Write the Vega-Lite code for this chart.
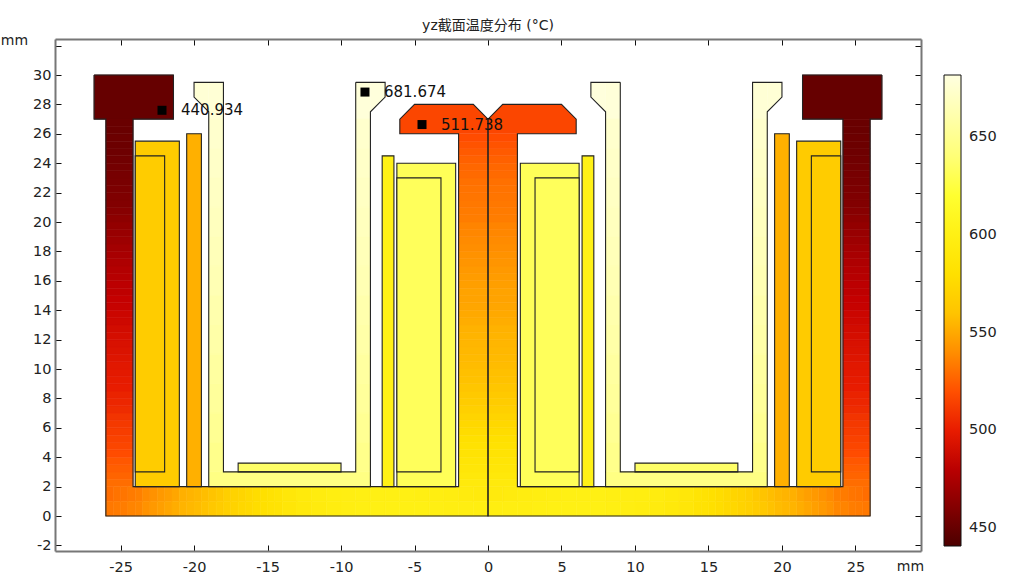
{"$schema":"https://vega.github.io/schema/vega-lite/v6.json","width":866,"height":512,"autosize":"none","padding":{"left":55,"top":39,"right":103,"bottom":25},"background":"white",
"title":{"text":"yz截面温度分布 (°C)","font":"DejaVu Sans, Noto Sans CJK SC","fontSize":14,"fontWeight":"normal","color":"#222","anchor":"middle","frame":"group","offset":0},
"config":{"view":{"stroke":null},"font":"DejaVu Sans"},
"datasets":{
"cells":[
{"x":-26.8,"x2":-21.4,"y":27,"y2":30,"t":450},{"x":21.4,"x2":26.8,"y":27,"y2":30,"t":450},
{"x":-26,"x2":-24.15,"y":2,"y2":2.5,"t":529},{"x":-26,"x2":-24.15,"y":2.5,"y2":3,"t":526},{"x":-26,"x2":-24.15,"y":3,"y2":3.5,"t":524},{"x":-26,"x2":-24.15,"y":3.5,"y2":4,"t":522},{"x":-26,"x2":-24.15,"y":4,"y2":4.5,"t":519},{"x":-26,"x2":-24.15,"y":4.5,"y2":5,"t":516},{"x":-26,"x2":-24.15,"y":5,"y2":5.5,"t":514},{"x":-26,"x2":-24.15,"y":5.5,"y2":6,"t":512},{"x":-26,"x2":-24.15,"y":6,"y2":6.5,"t":510},{"x":-26,"x2":-24.15,"y":6.5,"y2":7,"t":508},{"x":-26,"x2":-24.15,"y":7,"y2":7.5,"t":505},{"x":-26,"x2":-24.15,"y":7.5,"y2":8,"t":503},{"x":-26,"x2":-24.15,"y":8,"y2":8.5,"t":502},{"x":-26,"x2":-24.15,"y":8.5,"y2":9,"t":500},{"x":-26,"x2":-24.15,"y":9,"y2":9.5,"t":499},{"x":-26,"x2":-24.15,"y":9.5,"y2":10,"t":498},{"x":-26,"x2":-24.15,"y":10,"y2":10.5,"t":497},{"x":-26,"x2":-24.15,"y":10.5,"y2":11,"t":495},{"x":-26,"x2":-24.15,"y":11,"y2":11.5,"t":494},{"x":-26,"x2":-24.15,"y":11.5,"y2":12,"t":493},{"x":-26,"x2":-24.15,"y":12,"y2":12.5,"t":491},{"x":-26,"x2":-24.15,"y":12.5,"y2":13,"t":490},{"x":-26,"x2":-24.15,"y":13,"y2":13.5,"t":488},{"x":-26,"x2":-24.15,"y":13.5,"y2":14,"t":487},{"x":-26,"x2":-24.15,"y":14,"y2":14.5,"t":485},{"x":-26,"x2":-24.15,"y":14.5,"y2":15,"t":484},{"x":-26,"x2":-24.15,"y":15,"y2":15.5,"t":482},{"x":-26,"x2":-24.15,"y":15.5,"y2":16,"t":481},{"x":-26,"x2":-24.15,"y":16,"y2":16.5,"t":479},{"x":-26,"x2":-24.15,"y":16.5,"y2":17,"t":478},{"x":-26,"x2":-24.15,"y":17,"y2":17.5,"t":476},{"x":-26,"x2":-24.15,"y":17.5,"y2":18,"t":474},{"x":-26,"x2":-24.15,"y":18,"y2":18.5,"t":472},{"x":-26,"x2":-24.15,"y":18.5,"y2":19,"t":470},{"x":-26,"x2":-24.15,"y":19,"y2":19.5,"t":468},{"x":-26,"x2":-24.15,"y":19.5,"y2":20,"t":466},{"x":-26,"x2":-24.15,"y":20,"y2":20.5,"t":464},{"x":-26,"x2":-24.15,"y":20.5,"y2":21,"t":462},{"x":-26,"x2":-24.15,"y":21,"y2":21.5,"t":460},{"x":-26,"x2":-24.15,"y":21.5,"y2":22,"t":459},{"x":-26,"x2":-24.15,"y":22,"y2":22.5,"t":458},{"x":-26,"x2":-24.15,"y":22.5,"y2":23,"t":457},{"x":-26,"x2":-24.15,"y":23,"y2":23.5,"t":456},{"x":-26,"x2":-24.15,"y":23.5,"y2":24,"t":455},{"x":-26,"x2":-24.15,"y":24,"y2":24.5,"t":454},{"x":-26,"x2":-24.15,"y":24.5,"y2":25,"t":453},{"x":-26,"x2":-24.15,"y":25,"y2":25.5,"t":452},{"x":-26,"x2":-24.15,"y":25.5,"y2":26,"t":452},{"x":-26,"x2":-24.15,"y":26,"y2":26.5,"t":451},{"x":-26,"x2":-24.15,"y":26.5,"y2":27,"t":451},
{"x":24.15,"x2":26,"y":2,"y2":2.5,"t":529},{"x":24.15,"x2":26,"y":2.5,"y2":3,"t":526},{"x":24.15,"x2":26,"y":3,"y2":3.5,"t":524},{"x":24.15,"x2":26,"y":3.5,"y2":4,"t":522},{"x":24.15,"x2":26,"y":4,"y2":4.5,"t":519},{"x":24.15,"x2":26,"y":4.5,"y2":5,"t":516},{"x":24.15,"x2":26,"y":5,"y2":5.5,"t":514},{"x":24.15,"x2":26,"y":5.5,"y2":6,"t":512},{"x":24.15,"x2":26,"y":6,"y2":6.5,"t":510},{"x":24.15,"x2":26,"y":6.5,"y2":7,"t":508},{"x":24.15,"x2":26,"y":7,"y2":7.5,"t":505},{"x":24.15,"x2":26,"y":7.5,"y2":8,"t":503},{"x":24.15,"x2":26,"y":8,"y2":8.5,"t":502},{"x":24.15,"x2":26,"y":8.5,"y2":9,"t":500},{"x":24.15,"x2":26,"y":9,"y2":9.5,"t":499},{"x":24.15,"x2":26,"y":9.5,"y2":10,"t":498},{"x":24.15,"x2":26,"y":10,"y2":10.5,"t":497},{"x":24.15,"x2":26,"y":10.5,"y2":11,"t":495},{"x":24.15,"x2":26,"y":11,"y2":11.5,"t":494},{"x":24.15,"x2":26,"y":11.5,"y2":12,"t":493},{"x":24.15,"x2":26,"y":12,"y2":12.5,"t":491},{"x":24.15,"x2":26,"y":12.5,"y2":13,"t":490},{"x":24.15,"x2":26,"y":13,"y2":13.5,"t":488},{"x":24.15,"x2":26,"y":13.5,"y2":14,"t":487},{"x":24.15,"x2":26,"y":14,"y2":14.5,"t":485},{"x":24.15,"x2":26,"y":14.5,"y2":15,"t":484},{"x":24.15,"x2":26,"y":15,"y2":15.5,"t":482},{"x":24.15,"x2":26,"y":15.5,"y2":16,"t":481},{"x":24.15,"x2":26,"y":16,"y2":16.5,"t":479},{"x":24.15,"x2":26,"y":16.5,"y2":17,"t":478},{"x":24.15,"x2":26,"y":17,"y2":17.5,"t":476},{"x":24.15,"x2":26,"y":17.5,"y2":18,"t":474},{"x":24.15,"x2":26,"y":18,"y2":18.5,"t":472},{"x":24.15,"x2":26,"y":18.5,"y2":19,"t":470},{"x":24.15,"x2":26,"y":19,"y2":19.5,"t":468},{"x":24.15,"x2":26,"y":19.5,"y2":20,"t":466},{"x":24.15,"x2":26,"y":20,"y2":20.5,"t":464},{"x":24.15,"x2":26,"y":20.5,"y2":21,"t":462},{"x":24.15,"x2":26,"y":21,"y2":21.5,"t":460},{"x":24.15,"x2":26,"y":21.5,"y2":22,"t":459},{"x":24.15,"x2":26,"y":22,"y2":22.5,"t":458},{"x":24.15,"x2":26,"y":22.5,"y2":23,"t":457},{"x":24.15,"x2":26,"y":23,"y2":23.5,"t":456},{"x":24.15,"x2":26,"y":23.5,"y2":24,"t":455},{"x":24.15,"x2":26,"y":24,"y2":24.5,"t":454},{"x":24.15,"x2":26,"y":24.5,"y2":25,"t":453},{"x":24.15,"x2":26,"y":25,"y2":25.5,"t":452},{"x":24.15,"x2":26,"y":25.5,"y2":26,"t":452},{"x":24.15,"x2":26,"y":26,"y2":26.5,"t":451},{"x":24.15,"x2":26,"y":26.5,"y2":27,"t":451},
{"x":-2,"x2":2,"y":2,"y2":2.5,"t":592},{"x":-2,"x2":2,"y":2.5,"y2":3,"t":590},{"x":-2,"x2":2,"y":3,"y2":3.5,"t":588},{"x":-2,"x2":2,"y":3.5,"y2":4,"t":586},{"x":-2,"x2":2,"y":4,"y2":4.5,"t":584},{"x":-2,"x2":2,"y":4.5,"y2":5,"t":582},{"x":-2,"x2":2,"y":5,"y2":5.5,"t":580},{"x":-2,"x2":2,"y":5.5,"y2":6,"t":577},{"x":-2,"x2":2,"y":6,"y2":6.5,"t":574},{"x":-2,"x2":2,"y":6.5,"y2":7,"t":571},{"x":-2,"x2":2,"y":7,"y2":7.5,"t":568},{"x":-2,"x2":2,"y":7.5,"y2":8,"t":565},{"x":-2,"x2":2,"y":8,"y2":8.5,"t":563},{"x":-2,"x2":2,"y":8.5,"y2":9,"t":561},{"x":-2,"x2":2,"y":9,"y2":9.5,"t":559},{"x":-2,"x2":2,"y":9.5,"y2":10,"t":558},{"x":-2,"x2":2,"y":10,"y2":10.5,"t":556},{"x":-2,"x2":2,"y":10.5,"y2":11,"t":555},{"x":-2,"x2":2,"y":11,"y2":11.5,"t":554},{"x":-2,"x2":2,"y":11.5,"y2":12,"t":553},{"x":-2,"x2":2,"y":12,"y2":12.5,"t":552},{"x":-2,"x2":2,"y":12.5,"y2":13,"t":551},{"x":-2,"x2":2,"y":13,"y2":13.5,"t":549},{"x":-2,"x2":2,"y":13.5,"y2":14,"t":548},{"x":-2,"x2":2,"y":14,"y2":14.5,"t":547},{"x":-2,"x2":2,"y":14.5,"y2":15,"t":546},{"x":-2,"x2":2,"y":15,"y2":15.5,"t":546},{"x":-2,"x2":2,"y":15.5,"y2":16,"t":545},{"x":-2,"x2":2,"y":16,"y2":16.5,"t":544},{"x":-2,"x2":2,"y":16.5,"y2":17,"t":543},{"x":-2,"x2":2,"y":17,"y2":17.5,"t":542},{"x":-2,"x2":2,"y":17.5,"y2":18,"t":541},{"x":-2,"x2":2,"y":18,"y2":18.5,"t":540},{"x":-2,"x2":2,"y":18.5,"y2":19,"t":539},{"x":-2,"x2":2,"y":19,"y2":19.5,"t":538},{"x":-2,"x2":2,"y":19.5,"y2":20,"t":537},{"x":-2,"x2":2,"y":20,"y2":20.5,"t":535},{"x":-2,"x2":2,"y":20.5,"y2":21,"t":534},{"x":-2,"x2":2,"y":21,"y2":21.5,"t":533},{"x":-2,"x2":2,"y":21.5,"y2":22,"t":532},{"x":-2,"x2":2,"y":22,"y2":22.5,"t":531},{"x":-2,"x2":2,"y":22.5,"y2":23,"t":530},{"x":-2,"x2":2,"y":23,"y2":23.5,"t":528},{"x":-2,"x2":2,"y":23.5,"y2":24,"t":527},{"x":-2,"x2":2,"y":24,"y2":24.5,"t":525},{"x":-2,"x2":2,"y":24.5,"y2":25,"t":523},{"x":-2,"x2":2,"y":25,"y2":25.5,"t":521},{"x":-2,"x2":2,"y":25.5,"y2":26,"t":519},
{"x":-26,"x2":-25.5,"y":1,"y2":2,"t":529},{"x":-25.5,"x2":-25,"y":1,"y2":2,"t":531},{"x":-25,"x2":-24.5,"y":1,"y2":2,"t":532},{"x":-24.5,"x2":-24,"y":1,"y2":2,"t":534},{"x":-24,"x2":-23.5,"y":1,"y2":2,"t":536},{"x":-23.5,"x2":-23,"y":1,"y2":2,"t":539},{"x":-23,"x2":-22.5,"y":1,"y2":2,"t":541},{"x":-22.5,"x2":-22,"y":1,"y2":2,"t":543},{"x":-22,"x2":-21.5,"y":1,"y2":2,"t":545},{"x":-21.5,"x2":-21,"y":1,"y2":2,"t":547},{"x":-21,"x2":-20.5,"y":1,"y2":2,"t":550},{"x":-20.5,"x2":-20,"y":1,"y2":2,"t":552},{"x":-20,"x2":-19.5,"y":1,"y2":2,"t":554},{"x":-19.5,"x2":-19,"y":1,"y2":2,"t":557},{"x":-19,"x2":-18.5,"y":1,"y2":2,"t":560},{"x":-18.5,"x2":-18,"y":1,"y2":2,"t":563},{"x":-18,"x2":-17.5,"y":1,"y2":2,"t":567},{"x":-17.5,"x2":-17,"y":1,"y2":2,"t":570},{"x":-17,"x2":-16.5,"y":1,"y2":2,"t":572},{"x":-16.5,"x2":-16,"y":1,"y2":2,"t":575},{"x":-16,"x2":-15.5,"y":1,"y2":2,"t":578},{"x":-15.5,"x2":-15,"y":1,"y2":2,"t":580},{"x":-15,"x2":-14.5,"y":1,"y2":2,"t":583},{"x":-14.5,"x2":-14,"y":1,"y2":2,"t":585},
{"x":-14,"x2":-13,"y":1,"y2":2,"t":589},{"x":-13,"x2":-12,"y":1,"y2":2,"t":592},{"x":-12,"x2":-11,"y":1,"y2":2,"t":595},{"x":-11,"x2":-10,"y":1,"y2":2,"t":597},{"x":-10,"x2":-9,"y":1,"y2":2,"t":598},{"x":-9,"x2":-8,"y":1,"y2":2,"t":599},{"x":-8,"x2":-7,"y":1,"y2":2,"t":600},{"x":-7,"x2":-6,"y":1,"y2":2,"t":600},{"x":-6,"x2":-5,"y":1,"y2":2,"t":600},{"x":-5,"x2":-4,"y":1,"y2":2,"t":599},{"x":-4,"x2":-3,"y":1,"y2":2,"t":597},{"x":-3,"x2":-2,"y":1,"y2":2,"t":596},{"x":-2,"x2":-1,"y":1,"y2":2,"t":594},{"x":-1,"x2":0,"y":1,"y2":2,"t":593},
{"x":-26,"x2":-25.5,"y":0,"y2":1,"t":533},{"x":-25.5,"x2":-25,"y":0,"y2":1,"t":534},{"x":-25,"x2":-24.5,"y":0,"y2":1,"t":535},{"x":-24.5,"x2":-24,"y":0,"y2":1,"t":537},{"x":-24,"x2":-23.5,"y":0,"y2":1,"t":538},{"x":-23.5,"x2":-23,"y":0,"y2":1,"t":541},{"x":-23,"x2":-22.5,"y":0,"y2":1,"t":543},{"x":-22.5,"x2":-22,"y":0,"y2":1,"t":545},{"x":-22,"x2":-21.5,"y":0,"y2":1,"t":547},{"x":-21.5,"x2":-21,"y":0,"y2":1,"t":549},{"x":-21,"x2":-20.5,"y":0,"y2":1,"t":552},{"x":-20.5,"x2":-20,"y":0,"y2":1,"t":554},{"x":-20,"x2":-19.5,"y":0,"y2":1,"t":556},{"x":-19.5,"x2":-19,"y":0,"y2":1,"t":559},{"x":-19,"x2":-18.5,"y":0,"y2":1,"t":562},{"x":-18.5,"x2":-18,"y":0,"y2":1,"t":565},{"x":-18,"x2":-17.5,"y":0,"y2":1,"t":568},{"x":-17.5,"x2":-17,"y":0,"y2":1,"t":570},{"x":-17,"x2":-16.5,"y":0,"y2":1,"t":573},{"x":-16.5,"x2":-16,"y":0,"y2":1,"t":575},{"x":-16,"x2":-15.5,"y":0,"y2":1,"t":578},{"x":-15.5,"x2":-15,"y":0,"y2":1,"t":580},{"x":-15,"x2":-14.5,"y":0,"y2":1,"t":583},{"x":-14.5,"x2":-14,"y":0,"y2":1,"t":584},
{"x":-14,"x2":-13,"y":0,"y2":1,"t":588},{"x":-13,"x2":-12,"y":0,"y2":1,"t":591},{"x":-12,"x2":-11,"y":0,"y2":1,"t":594},{"x":-11,"x2":-10,"y":0,"y2":1,"t":596},{"x":-10,"x2":-9,"y":0,"y2":1,"t":598},{"x":-9,"x2":-8,"y":0,"y2":1,"t":599},{"x":-8,"x2":-7,"y":0,"y2":1,"t":600},{"x":-7,"x2":-6,"y":0,"y2":1,"t":600},{"x":-6,"x2":-5,"y":0,"y2":1,"t":600},{"x":-5,"x2":-4,"y":0,"y2":1,"t":600},{"x":-4,"x2":-3,"y":0,"y2":1,"t":599},{"x":-3,"x2":-2,"y":0,"y2":1,"t":598},{"x":-2,"x2":-1,"y":0,"y2":1,"t":598},{"x":-1,"x2":0,"y":0,"y2":1,"t":597},
{"x":25.5,"x2":26,"y":1,"y2":2,"t":529},{"x":25,"x2":25.5,"y":1,"y2":2,"t":531},{"x":24.5,"x2":25,"y":1,"y2":2,"t":532},{"x":24,"x2":24.5,"y":1,"y2":2,"t":534},{"x":23.5,"x2":24,"y":1,"y2":2,"t":536},{"x":23,"x2":23.5,"y":1,"y2":2,"t":539},{"x":22.5,"x2":23,"y":1,"y2":2,"t":541},{"x":22,"x2":22.5,"y":1,"y2":2,"t":543},{"x":21.5,"x2":22,"y":1,"y2":2,"t":545},{"x":21,"x2":21.5,"y":1,"y2":2,"t":547},{"x":20.5,"x2":21,"y":1,"y2":2,"t":550},{"x":20,"x2":20.5,"y":1,"y2":2,"t":552},{"x":19.5,"x2":20,"y":1,"y2":2,"t":554},{"x":19,"x2":19.5,"y":1,"y2":2,"t":557},{"x":18.5,"x2":19,"y":1,"y2":2,"t":560},{"x":18,"x2":18.5,"y":1,"y2":2,"t":563},{"x":17.5,"x2":18,"y":1,"y2":2,"t":567},{"x":17,"x2":17.5,"y":1,"y2":2,"t":570},{"x":16.5,"x2":17,"y":1,"y2":2,"t":572},{"x":16,"x2":16.5,"y":1,"y2":2,"t":575},{"x":15.5,"x2":16,"y":1,"y2":2,"t":578},{"x":15,"x2":15.5,"y":1,"y2":2,"t":580},{"x":14.5,"x2":15,"y":1,"y2":2,"t":583},{"x":14,"x2":14.5,"y":1,"y2":2,"t":585},
{"x":13,"x2":14,"y":1,"y2":2,"t":589},{"x":12,"x2":13,"y":1,"y2":2,"t":592},{"x":11,"x2":12,"y":1,"y2":2,"t":595},{"x":10,"x2":11,"y":1,"y2":2,"t":597},{"x":9,"x2":10,"y":1,"y2":2,"t":598},{"x":8,"x2":9,"y":1,"y2":2,"t":599},{"x":7,"x2":8,"y":1,"y2":2,"t":600},{"x":6,"x2":7,"y":1,"y2":2,"t":600},{"x":5,"x2":6,"y":1,"y2":2,"t":600},{"x":4,"x2":5,"y":1,"y2":2,"t":599},{"x":3,"x2":4,"y":1,"y2":2,"t":597},{"x":2,"x2":3,"y":1,"y2":2,"t":596},{"x":1,"x2":2,"y":1,"y2":2,"t":594},{"x":0,"x2":1,"y":1,"y2":2,"t":593},
{"x":25.5,"x2":26,"y":0,"y2":1,"t":533},{"x":25,"x2":25.5,"y":0,"y2":1,"t":534},{"x":24.5,"x2":25,"y":0,"y2":1,"t":535},{"x":24,"x2":24.5,"y":0,"y2":1,"t":537},{"x":23.5,"x2":24,"y":0,"y2":1,"t":538},{"x":23,"x2":23.5,"y":0,"y2":1,"t":541},{"x":22.5,"x2":23,"y":0,"y2":1,"t":543},{"x":22,"x2":22.5,"y":0,"y2":1,"t":545},{"x":21.5,"x2":22,"y":0,"y2":1,"t":547},{"x":21,"x2":21.5,"y":0,"y2":1,"t":549},{"x":20.5,"x2":21,"y":0,"y2":1,"t":552},{"x":20,"x2":20.5,"y":0,"y2":1,"t":554},{"x":19.5,"x2":20,"y":0,"y2":1,"t":556},{"x":19,"x2":19.5,"y":0,"y2":1,"t":559},{"x":18.5,"x2":19,"y":0,"y2":1,"t":562},{"x":18,"x2":18.5,"y":0,"y2":1,"t":565},{"x":17.5,"x2":18,"y":0,"y2":1,"t":568},{"x":17,"x2":17.5,"y":0,"y2":1,"t":570},{"x":16.5,"x2":17,"y":0,"y2":1,"t":573},{"x":16,"x2":16.5,"y":0,"y2":1,"t":575},{"x":15.5,"x2":16,"y":0,"y2":1,"t":578},{"x":15,"x2":15.5,"y":0,"y2":1,"t":580},{"x":14.5,"x2":15,"y":0,"y2":1,"t":583},{"x":14,"x2":14.5,"y":0,"y2":1,"t":584},
{"x":13,"x2":14,"y":0,"y2":1,"t":588},{"x":12,"x2":13,"y":0,"y2":1,"t":591},{"x":11,"x2":12,"y":0,"y2":1,"t":594},{"x":10,"x2":11,"y":0,"y2":1,"t":596},{"x":9,"x2":10,"y":0,"y2":1,"t":598},{"x":8,"x2":9,"y":0,"y2":1,"t":599},{"x":7,"x2":8,"y":0,"y2":1,"t":600},{"x":6,"x2":7,"y":0,"y2":1,"t":600},{"x":5,"x2":6,"y":0,"y2":1,"t":600},{"x":4,"x2":5,"y":0,"y2":1,"t":600},{"x":3,"x2":4,"y":0,"y2":1,"t":599},{"x":2,"x2":3,"y":0,"y2":1,"t":598},{"x":1,"x2":2,"y":0,"y2":1,"t":598},{"x":0,"x2":1,"y":0,"y2":1,"t":597},
{"x":-19,"x2":-8,"y":2,"y2":3,"t":645},{"x":8,"x2":19,"y":2,"y2":3,"t":645},
{"x":-19,"x2":-18,"y":27,"y2":29.5,"t":677},{"x":-19,"x2":-18,"y":25,"y2":27,"t":674},{"x":-19,"x2":-18,"y":23,"y2":25,"t":672},{"x":-19,"x2":-18,"y":21,"y2":23,"t":670},{"x":-19,"x2":-18,"y":19,"y2":21,"t":668},{"x":-19,"x2":-18,"y":17,"y2":19,"t":666},{"x":-19,"x2":-18,"y":15,"y2":17,"t":664},{"x":-19,"x2":-18,"y":13,"y2":15,"t":661},{"x":-19,"x2":-18,"y":11,"y2":13,"t":659},{"x":-19,"x2":-18,"y":9,"y2":11,"t":656},{"x":-19,"x2":-18,"y":7,"y2":9,"t":654},{"x":-19,"x2":-18,"y":5,"y2":7,"t":651},{"x":-19,"x2":-18,"y":3,"y2":5,"t":648},
{"x":-9,"x2":-8,"y":27,"y2":29.5,"t":679},{"x":-9,"x2":-8,"y":25,"y2":27,"t":674},{"x":-9,"x2":-8,"y":23,"y2":25,"t":672},{"x":-9,"x2":-8,"y":21,"y2":23,"t":670},{"x":-9,"x2":-8,"y":19,"y2":21,"t":668},{"x":-9,"x2":-8,"y":17,"y2":19,"t":666},{"x":-9,"x2":-8,"y":15,"y2":17,"t":664},{"x":-9,"x2":-8,"y":13,"y2":15,"t":661},{"x":-9,"x2":-8,"y":11,"y2":13,"t":659},{"x":-9,"x2":-8,"y":9,"y2":11,"t":656},{"x":-9,"x2":-8,"y":7,"y2":9,"t":654},{"x":-9,"x2":-8,"y":5,"y2":7,"t":651},{"x":-9,"x2":-8,"y":3,"y2":5,"t":648},
{"x":18,"x2":19,"y":27,"y2":29.5,"t":677},{"x":18,"x2":19,"y":25,"y2":27,"t":674},{"x":18,"x2":19,"y":23,"y2":25,"t":672},{"x":18,"x2":19,"y":21,"y2":23,"t":670},{"x":18,"x2":19,"y":19,"y2":21,"t":668},{"x":18,"x2":19,"y":17,"y2":19,"t":666},{"x":18,"x2":19,"y":15,"y2":17,"t":664},{"x":18,"x2":19,"y":13,"y2":15,"t":661},{"x":18,"x2":19,"y":11,"y2":13,"t":659},{"x":18,"x2":19,"y":9,"y2":11,"t":656},{"x":18,"x2":19,"y":7,"y2":9,"t":654},{"x":18,"x2":19,"y":5,"y2":7,"t":651},{"x":18,"x2":19,"y":3,"y2":5,"t":648},
{"x":8,"x2":9,"y":27,"y2":29.5,"t":679},{"x":8,"x2":9,"y":25,"y2":27,"t":674},{"x":8,"x2":9,"y":23,"y2":25,"t":672},{"x":8,"x2":9,"y":21,"y2":23,"t":670},{"x":8,"x2":9,"y":19,"y2":21,"t":668},{"x":8,"x2":9,"y":17,"y2":19,"t":666},{"x":8,"x2":9,"y":15,"y2":17,"t":664},{"x":8,"x2":9,"y":13,"y2":15,"t":661},{"x":8,"x2":9,"y":11,"y2":13,"t":659},{"x":8,"x2":9,"y":9,"y2":11,"t":656},{"x":8,"x2":9,"y":7,"y2":9,"t":654},{"x":8,"x2":9,"y":5,"y2":7,"t":651},{"x":8,"x2":9,"y":3,"y2":5,"t":648}
],
"areas":[
{"p":"head","x":-6,"y":26,"y2":27,"t":516},{"p":"head","x":-5,"y":26,"y2":28,"t":516},{"p":"head","x":-1,"y":26,"y2":28,"t":516},{"p":"head","x":0,"y":26,"y2":27,"t":516},{"p":"head","x":1,"y":26,"y2":28,"t":516},{"p":"head","x":5,"y":26,"y2":28,"t":516},{"p":"head","x":6,"y":26,"y2":27,"t":516},
{"p":"a","x":-20,"y":28.5,"y2":29.5,"t":677},{"p":"a","x":-19,"y":27.5,"y2":29.5,"t":677},
{"p":"b","x":-8,"y":27.5,"y2":29.5,"t":680},{"p":"b","x":-7,"y":28.5,"y2":29.5,"t":680},
{"p":"c","x":7,"y":28.5,"y2":29.5,"t":680},{"p":"c","x":8,"y":27.5,"y2":29.5,"t":680},
{"p":"d","x":19,"y":27.5,"y2":29.5,"t":677},{"p":"d","x":20,"y":28.5,"y2":29.5,"t":677}
],
"parts":[
{"x":-24,"x2":-21,"y":2,"y2":25.5,"t":564},{"x":-24,"x2":-22,"y":3,"y2":24.5,"t":565},{"x":-20.5,"x2":-19.5,"y":2,"y2":26,"t":550},{"x":-17,"x2":-10,"y":3,"y2":3.6,"t":635},{"x":-7.2,"x2":-6.4,"y":2,"y2":24.5,"t":601},{"x":-6.2,"x2":-2.2,"y":2,"y2":24,"t":630},{"x":-6.2,"x2":-3.2,"y":3,"y2":23,"t":631},
{"x":21,"x2":24,"y":2,"y2":25.5,"t":564},{"x":22,"x2":24,"y":3,"y2":24.5,"t":565},{"x":19.5,"x2":20.5,"y":2,"y2":26,"t":550},{"x":10,"x2":17,"y":3,"y2":3.6,"t":635},{"x":6.4,"x2":7.2,"y":2,"y2":24.5,"t":601},{"x":2.2,"x2":6.2,"y":2,"y2":24,"t":630},{"x":3.2,"x2":6.2,"y":3,"y2":23,"t":631}
],
"outline":[
{"p":"TL","i":0,"x":-26.8,"y":30},{"p":"TL","i":1,"x":-21.4,"y":30},{"p":"TL","i":2,"x":-21.4,"y":27},{"p":"TL","i":3,"x":-24.15,"y":27},{"p":"TL","i":4,"x":-24.15,"y":2},{"p":"TL","i":5,"x":-2,"y":2},{"p":"TL","i":6,"x":-2,"y":26},{"p":"TL","i":7,"x":-6,"y":26},{"p":"TL","i":8,"x":-6,"y":27},{"p":"TL","i":9,"x":-5,"y":28},{"p":"TL","i":10,"x":-1,"y":28},{"p":"TL","i":11,"x":0,"y":27},{"p":"TL","i":12,"x":0,"y":0},{"p":"TL","i":13,"x":-26,"y":0},{"p":"TL","i":14,"x":-26,"y":27},{"p":"TL","i":15,"x":-26.8,"y":27},{"p":"TL","i":16,"x":-26.8,"y":30},
{"p":"TR","i":0,"x":26.8,"y":30},{"p":"TR","i":1,"x":21.4,"y":30},{"p":"TR","i":2,"x":21.4,"y":27},{"p":"TR","i":3,"x":24.15,"y":27},{"p":"TR","i":4,"x":24.15,"y":2},{"p":"TR","i":5,"x":2,"y":2},{"p":"TR","i":6,"x":2,"y":26},{"p":"TR","i":7,"x":6,"y":26},{"p":"TR","i":8,"x":6,"y":27},{"p":"TR","i":9,"x":5,"y":28},{"p":"TR","i":10,"x":1,"y":28},{"p":"TR","i":11,"x":0,"y":27},{"p":"TR","i":12,"x":0,"y":0},{"p":"TR","i":13,"x":26,"y":0},{"p":"TR","i":14,"x":26,"y":27},{"p":"TR","i":15,"x":26.8,"y":27},{"p":"TR","i":16,"x":26.8,"y":30},
{"p":"UL","i":0,"x":-9,"y":29.5},{"p":"UL","i":1,"x":-7,"y":29.5},{"p":"UL","i":2,"x":-7,"y":28.5},{"p":"UL","i":3,"x":-8,"y":27.5},{"p":"UL","i":4,"x":-8,"y":2},{"p":"UL","i":5,"x":-19,"y":2},{"p":"UL","i":6,"x":-19,"y":27.5},{"p":"UL","i":7,"x":-20,"y":28.5},{"p":"UL","i":8,"x":-20,"y":29.5},{"p":"UL","i":9,"x":-18,"y":29.5},{"p":"UL","i":10,"x":-18,"y":3},{"p":"UL","i":11,"x":-9,"y":3},{"p":"UL","i":12,"x":-9,"y":29.5},
{"p":"UR","i":0,"x":9,"y":29.5},{"p":"UR","i":1,"x":7,"y":29.5},{"p":"UR","i":2,"x":7,"y":28.5},{"p":"UR","i":3,"x":8,"y":27.5},{"p":"UR","i":4,"x":8,"y":2},{"p":"UR","i":5,"x":19,"y":2},{"p":"UR","i":6,"x":19,"y":27.5},{"p":"UR","i":7,"x":20,"y":28.5},{"p":"UR","i":8,"x":20,"y":29.5},{"p":"UR","i":9,"x":18,"y":29.5},{"p":"UR","i":10,"x":18,"y":3},{"p":"UR","i":11,"x":9,"y":3},{"p":"UR","i":12,"x":9,"y":29.5}
],
"points":[{"x":-22.18,"y":27.6,"label":"440.934"},{"x":-8.37,"y":28.84,"label":"681.674"},{"x":-4.49,"y":26.63,"label":"511.738"}]
},
"layer":[
{"data":{"name":"cells"},"mark":{"type":"rect","strokeWidth":0.6},
"encoding":{"x":{"field":"x","type":"quantitative","scale":{"domain":[-29.46,29.46],"nice":false,"zero":false},"axis":{"orient":"bottom","values":[-25,-20,-15,-10,-5,0,5,10,15,20,25],"labelExpr":"''+datum.value","grid":false,"domainColor":"#777","domainWidth":2,"tickColor":"#111","tickSize":-6,"labelPadding":15,"labelFontSize":14.5,"labelFont":"DejaVu Sans","labelColor":"#222","title":"mm","titleFontSize":14,"titleFontWeight":"normal","titleFont":"DejaVu Sans","titleColor":"#222","titleX":855,"titleY":8,"titleAlign":"center","labelFlush":false}},"x2":{"field":"x2"},
"y":{"field":"y","type":"quantitative","scale":{"domain":[-2.38,32.45],"nice":false,"zero":false},"axis":{"orient":"left","values":[-2,0,2,4,6,8,10,12,14,16,18,20,22,24,26,28,30,32],"labelExpr":"datum.value==32?'':''+datum.value","grid":false,"domainColor":"#777","domainWidth":2,"tickColor":"#111","tickSize":-6,"labelPadding":10,"labelFontSize":14.5,"labelFont":"DejaVu Sans","labelColor":"#222","title":"mm","titleFontSize":14,"titleFontWeight":"normal","titleFont":"DejaVu Sans","titleColor":"#222","titleAngle":0,"titleX":-41,"titleY":8,"titleAlign":"center"}},"y2":{"field":"y2"},
"fill":{"field":"t","type":"quantitative","scale":{"domain":[440.93,450,465,484,500,519,536,550,562,580,600,620,650,681.67],"range":["#4c0000","#660000","#900000","#c40000","#e81c00","#ff4c00","#ff8000","#ffb000","#ffc800","#ffe000","#fff014","#ffff30","#ffff90","#ffffe0"]},"legend":{"orient":"none","legendX":889,"legendY":36,"title":null,"gradientLength":471,"gradientThickness":17,"gradientStrokeColor":"#111","gradientStrokeWidth":1,"values":[450,500,550,600,650],"labelFontSize":14.5,"labelFont":"DejaVu Sans","labelColor":"#222","labelOffset":8,"padding":0}},
"stroke":{"field":"t","type":"quantitative","scale":{"domain":[440.9,450,465,484,500,519,536,550,562,580,600,620,650,681.7],"range":["#4c0000","#660000","#900000","#c40000","#e81c00","#ff4c00","#ff8000","#ffb000","#ffc800","#ffe000","#fff014","#ffff30","#ffff90","#ffffe0"]},"legend":null}}},
{"data":{"name":"areas"},"mark":{"type":"area"},
"encoding":{"x":{"field":"x","type":"quantitative","axis":null},"y":{"field":"y","type":"quantitative","axis":null},"y2":{"field":"y2"},"detail":{"field":"p"},"fill":{"field":"t","type":"quantitative","legend":null}}},
{"data":{"name":"parts"},"mark":{"type":"rect","stroke":"#222","strokeWidth":1.1},
"encoding":{"x":{"field":"x","type":"quantitative","axis":null},"x2":{"field":"x2"},"y":{"field":"y","type":"quantitative","axis":null},"y2":{"field":"y2"},"fill":{"field":"t","type":"quantitative","legend":null}}},
{"data":{"name":"outline"},"mark":{"type":"line","stroke":"#222","strokeWidth":1.1},
"encoding":{"x":{"field":"x","type":"quantitative","axis":null},"y":{"field":"y","type":"quantitative","axis":null},"detail":{"field":"p"},"order":{"field":"i","type":"quantitative"}}},
{"data":{"name":"points"},"mark":{"type":"point","shape":"square","filled":true,"size":81,"color":"black","opacity":1},
"encoding":{"x":{"field":"x","type":"quantitative","axis":{"orient":"top","values":[-25,-20,-15,-10,-5,0,5,10,15,20,25],"labels":false,"grid":false,"domainColor":"#777","domainWidth":2,"tickColor":"#111","tickSize":-6,"title":null}},"y":{"field":"y","type":"quantitative","axis":{"orient":"right","values":[-2,0,2,4,6,8,10,12,14,16,18,20,22,24,26,28,30,32],"labels":false,"grid":false,"domainColor":"#777","domainWidth":2,"tickColor":"#111","tickSize":-6,"title":null}}}},
{"data":{"name":"points"},"mark":{"type":"text","align":"left","baseline":"middle","dx":19,"font":"DejaVu Sans","fontSize":15,"color":"#111"},
"encoding":{"x":{"field":"x","type":"quantitative","axis":null},"y":{"field":"y","type":"quantitative","axis":null},"text":{"field":"label","type":"nominal"}}}
],
"resolve":{"axis":{"x":"independent","y":"independent"}}
}
